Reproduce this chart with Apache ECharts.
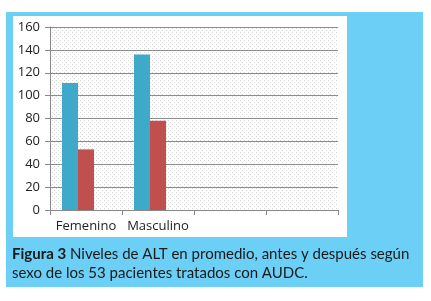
<!DOCTYPE html>
<html>
<head>
<meta charset="utf-8">
<script src="https://cdn.jsdelivr.net/npm/echarts@6/dist/echarts.min.js"></script>
<style>
  html, body { margin: 0; padding: 0; background: #fff; }
  #chart { width: 431px; height: 301px; }
</style>
</head>
<body>
<div id="chart"></div>
<script>
const categories = ['Femenino', 'Masculino', '', '']
const antes = [111, 136, null, null]
const despues = [53, 78, null, null]
const vacio = [null, null, null, null]
const yTicks = { min: 0, max: 160, interval: 20 }

// dotted fill for the plot area
const dots = document.createElement('canvas')
dots.width = 4
dots.height = 4
const dctx = dots.getContext('2d')
dctx.fillStyle = '#fff'
dctx.fillRect(0, 0, 4, 4)
dctx.fillStyle = '#d6d6d6'
dctx.fillRect(0, 0, 1, 1)
dctx.fillRect(2, 2, 1, 1)

const chart = echarts.init(document.getElementById('chart'))
chart.setOption({
  backgroundColor: '#fff',
  animation: false,
  graphic: [
    { type: 'rect', z: -10, shape: { x: 6, y: 12, width: 417, height: 275 }, style: { fill: '#6ccff6' } },
    { type: 'rect', z: -9, shape: { x: 13, y: 16, width: 334, height: 221 }, style: { fill: '#fff' } },
    {
      type: 'text',
      left: 12,
      top: 245,
      style: {
        text: '{b|Figura 3} Niveles de ALT en promedio, antes y después según\nsexo de los 53 pacientes tratados con AUDC.',
        font: '15px Lato',
        fill: '#1a1a1a',
        lineHeight: 19,
        rich: {
          b: { font: 'bold 15px Lato', fill: '#1a1a1a', lineHeight: 19 }
        }
      }
    }
  ],
  grid: {
    left: 50,
    top: 27,
    width: 288,
    height: 183,
    show: true,
    borderWidth: 0,
    backgroundColor: { image: dots, repeat: 'repeat' }
  },
  xAxis: {
    type: 'category',
    data: categories,
    axisLine: { lineStyle: { color: '#888' } },
    axisTick: { show: true, length: 5, lineStyle: { color: '#888' } },
    axisLabel: { interval: 0, color: '#222', fontSize: 13, fontFamily: 'Open Sans', margin: 10 }
  },
  yAxis: {
    type: 'value',
    min: yTicks.min,
    max: yTicks.max,
    interval: yTicks.interval,
    axisLine: { show: true, lineStyle: { color: '#888' } },
    axisTick: { show: true, length: 5, lineStyle: { color: '#888' } },
    axisLabel: { color: '#222', fontSize: 13, fontFamily: 'Open Sans', margin: 10 },
    splitLine: { lineStyle: { color: '#8c8c8c', width: 1 } }
  },
  series: [
    { type: 'bar', data: antes, barWidth: 16, barGap: '0%', itemStyle: { color: '#3fa9c9' } },
    { type: 'bar', data: despues, barWidth: 16, barGap: '0%', itemStyle: { color: '#c0504d' } },
    { type: 'bar', data: vacio, barWidth: 16, barGap: '0%', itemStyle: { color: '#9bbb59' } }
  ]
})
</script>
</body>
</html>
